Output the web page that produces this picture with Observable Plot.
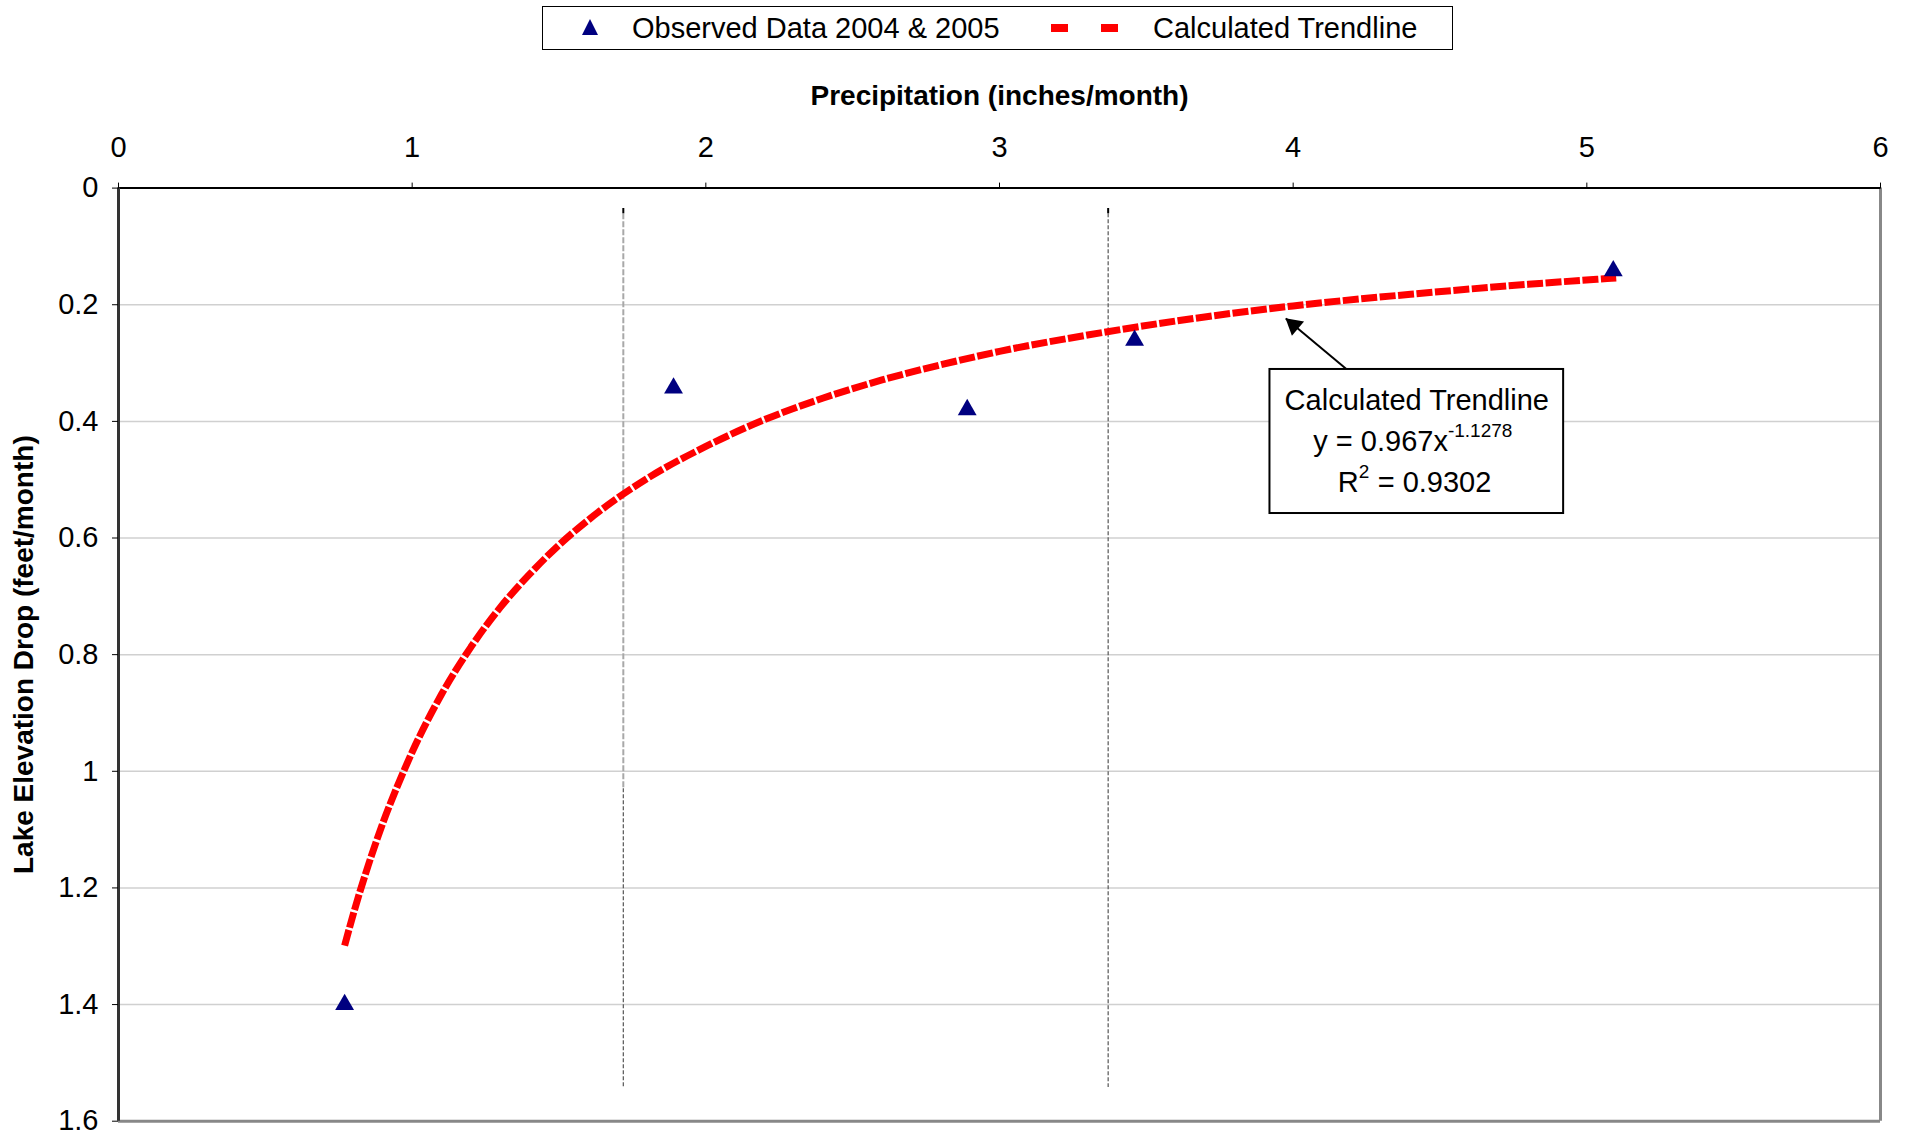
<!DOCTYPE html>
<html>
<head>
<meta charset="utf-8">
<script src="https://cdn.jsdelivr.net/npm/d3@7"></script>
<script src="https://cdn.jsdelivr.net/npm/@observablehq/plot@0.6"></script>
<style>
  html, body { margin: 0; padding: 0; background: #fff; }
  body { font-family: "Liberation Sans", Arial, sans-serif; color: #000; }
  #wrap { width: 1910px; }
  #legend { position: relative; width: 1910px; height: 60px; }
  #legendbox { position: absolute; left: 542px; top: 6px; width: 909px; height: 42px; border: 1.5px solid #000; background: #fff; }
  .lg { position: absolute; top: 0; height: 42px; line-height: 42px; font-size: 29px; white-space: nowrap; }
  .sw { position: absolute; top: 0; }
</style>
</head>
<body>
<div id="wrap">
  <div id="legend">
    <div id="legendbox">
      <svg class="sw" style="left:36px" width="22" height="42"><polygon points="11,12 19,28 3,28" fill="#000080"/></svg>
      <span class="lg" style="left:89px">Observed Data 2004 &amp; 2005</span>
      <svg class="sw" style="left:506px" width="72" height="42"><line x1="2" y1="21" x2="70" y2="21" stroke="#ff0000" stroke-width="8" stroke-dasharray="17,33"/></svg>
      <span class="lg" style="left:610px">Calculated Trendline</span>
    </div>
  </div>
  <div id="chart"></div>
</div>
<script>
// ---- data ----
const xTicks = [0, 1, 2, 3, 4, 5, 6];
const xTickLabels = ["0", "1", "2", "3", "4", "5", "6"];
const yTicks = [0, 0.2, 0.4, 0.6, 0.8, 1.0, 1.2, 1.4, 1.6];
const yTickLabels = ["0", "0.2", "0.4", "0.6", "0.8", "1", "1.2", "1.4", "1.6"];
const yGridValues = [0.2, 0.4, 0.6, 0.8, 1.0, 1.2, 1.4];

// Observed Data 2004 & 2005
const obsPrecip = [0.77, 1.89, 2.89, 3.46, 5.09];
const obsDrop   = [1.40, 0.343, 0.380, 0.261, 0.142];

// Calculated Trendline
const trendPrecip = [0.77, 0.80, 0.85, 0.90, 0.95, 1.00, 1.10, 1.20, 1.30, 1.40, 1.50, 1.60, 1.80, 2.00, 2.20, 2.40, 2.60, 2.80, 3.00, 3.30, 3.60, 4.00, 4.40, 4.80, 5.10];
const trendDrop   = [1.299, 1.244, 1.162, 1.089, 1.025, 0.967, 0.868, 0.787, 0.719, 0.662, 0.612, 0.569, 0.498, 0.443, 0.397, 0.360, 0.329, 0.303, 0.280, 0.252, 0.228, 0.202, 0.182, 0.165, 0.154];

// vertical reference lines (precipitation values) and their extent
const refLineX = [1.719, 3.370];
const refLineTop = 0.044;
const refLineBottom = 1.542;
const refLineSplit = 1.03;

// annotation
const annoTitle = "Calculated Trendline";
const annoEq = "y = 0.967x";
const annoExp = "-1.1278";
const annoR = "R";
const annoRsup = "2";
const annoRval = "= 0.9302";
const annoBox = {x1: 3.921, x2: 4.921, y1: 0.311, y2: 0.558};
const annoArrow = {x1: 4.183, y1: 0.311, x2: 3.975, y2: 0.2235};

const xTitle = "Precipitation (inches/month)";
const yTitle = "Lake Elevation Drop (feet/month)";

// ---- tables built from the arrays ----
const observed = obsPrecip.map((x, i) => ({x, y: obsDrop[i]}));
const trend = trendPrecip.map((x, i) => ({x, y: trendDrop[i]}));
const xLabelMap = new Map(xTicks.map((t, i) => [t, xTickLabels[i]]));
const yLabelMap = new Map(yTicks.map((t, i) => [t, yTickLabels[i]]));
const cx = (annoBox.x1 + annoBox.x2) / 2;

const FONT = '"Liberation Sans", Arial, sans-serif';

const chart = Plot.plot({
  width: 1910,
  height: 1077,
  marginTop: 127.6,
  marginLeft: 118,
  marginRight: 30,
  marginBottom: 16.3,
  style: {fontFamily: FONT, fontSize: "29px", color: "#000", background: "#fff", overflow: "visible"},
  x: {domain: [0, 6]},
  y: {domain: [0, 1.6], reverse: true},
  marks: [
    // horizontal gridlines
    Plot.ruleY(yGridValues, {stroke: "#d0d0d0", strokeWidth: 1.5}),
    // vertical dashed reference lines
    Plot.ruleX([refLineX[0]], {y1: refLineTop, y2: refLineSplit, stroke: "#a8a8a8", strokeWidth: 2, strokeDasharray: "6,2"}),
    Plot.ruleX([refLineX[0]], {y1: refLineSplit, y2: refLineBottom, stroke: "#555", strokeWidth: 1.2, strokeDasharray: "4,2"}),
    Plot.ruleX([refLineX[1]], {y1: refLineTop, y2: refLineBottom, stroke: "#555", strokeWidth: 1.2, strokeDasharray: "4,2"}),
    Plot.ruleX(refLineX, {y1: refLineTop - 0.009, y2: refLineTop, stroke: "#000", strokeWidth: 2}),
    // frame
    Plot.ruleY([1.6], {stroke: "#888", strokeWidth: 3}),
    Plot.ruleX([6], {stroke: "#888", strokeWidth: 3}),
    Plot.ruleY([0], {stroke: "#000", strokeWidth: 2}),
    Plot.ruleX([0], {stroke: "#333", strokeWidth: 3}),
    // axes
    Plot.axisX(xTicks, {anchor: "top", tickSize: 6, tickPadding: 25, label: null, fontSize: 29, stroke: "#000", tickFormat: d => xLabelMap.get(d)}),
    Plot.axisY(yTicks, {anchor: "left", tickSize: 6, tickPadding: 14, label: null, fontSize: 29, stroke: "#000", tickFormat: d => yLabelMap.get(d)}),
    // axis titles
    Plot.text([xTitle], {text: d => d, frameAnchor: "top", dy: -91.6, fontWeight: "bold", fontSize: 28, textAnchor: "middle", lineAnchor: "middle"}),
    Plot.text([yTitle], {text: d => d, frameAnchor: "left", dx: -94, rotate: -90, fontWeight: "bold", fontSize: 28, textAnchor: "middle", lineAnchor: "middle"}),
    // trendline
    Plot.line(trend, {x: "x", y: "y", stroke: "#ff0000", strokeWidth: 7, strokeDasharray: "16,2.5", strokeLinecap: "butt", strokeLinejoin: "miter", curve: "monotone-x"}),
    // observed points
    Plot.dot(observed, {x: "x", y: "y", symbol: "triangle", r: 7, fill: "#000080", stroke: null}),
    // annotation arrow
    Plot.link([annoArrow], {x1: "x1", y1: "y1", x2: "x2", y2: "y2", stroke: "#000", strokeWidth: 2}),
    Plot.dot([annoArrow], {x: "x2", y: "y2", symbol: "triangle", r: 7, fill: "#000", stroke: null, rotate: -50, dx: 8, dy: 6.7}),
    // annotation box
    Plot.rect([annoBox], {x1: "x1", x2: "x2", y1: "y1", y2: "y2", fill: "#fff", stroke: "#000", strokeWidth: 2}),
    Plot.text([{x: cx, y: 0.364, t: annoTitle}], {x: "x", y: "y", text: "t", fontSize: 29, lineAnchor: "middle"}),
    Plot.text([{x: 4.527, y: 0.435, t: annoEq}], {x: "x", y: "y", text: "t", fontSize: 29, textAnchor: "end", lineAnchor: "middle"}),
    Plot.text([{x: 4.527, y: 0.435, t: annoExp}], {x: "x", y: "y", text: "t", fontSize: 19, textAnchor: "start", lineAnchor: "middle", dy: -11}),
    Plot.text([{x: 4.223, y: 0.506, t: annoR}], {x: "x", y: "y", text: "t", fontSize: 29, textAnchor: "end", lineAnchor: "middle"}),
    Plot.text([{x: 4.223, y: 0.506, t: annoRsup}], {x: "x", y: "y", text: "t", fontSize: 19, textAnchor: "start", lineAnchor: "middle", dy: -11}),
    Plot.text([{x: 4.223, y: 0.506, t: annoRval}], {x: "x", y: "y", text: "t", fontSize: 29, textAnchor: "start", lineAnchor: "middle", dx: 19})
  ]
});
document.getElementById("chart").appendChild(chart);
</script>
</body>
</html>
